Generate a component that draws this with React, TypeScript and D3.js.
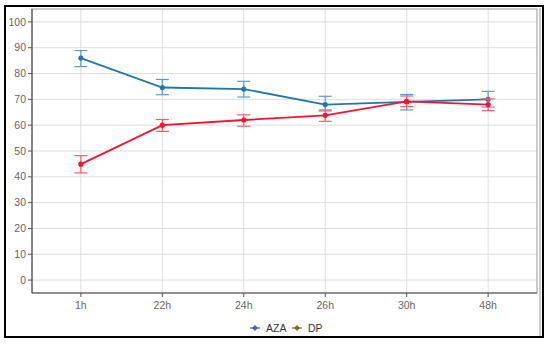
import React from 'react';
import * as d3 from 'd3';

// time points on the x axis
const timePoints = ['1h', '22h', '24h', '26h', '30h', '48h'];

// AZA series (mean, lower, upper)
const azaMean = [86, 74.6, 74, 68, 69, 70];
const azaLow = [82.7, 71.8, 70.9, 65.5, 65.9, 67];
const azaHigh = [88.9, 77.7, 77, 71.2, 71.9, 73.1];

// DP series (mean, lower, upper)
const dpMean = [44.9, 60, 62, 63.8, 69.2, 68];
const dpLow = [41.5, 57.6, 59.6, 61.5, 67.2, 65.6];
const dpHigh = [48.2, 62.2, 64, 65.9, 71.3, 70.2];

const yTicks = [0, 10, 20, 30, 40, 50, 60, 70, 80, 90, 100];

const legendItems = ['AZA', 'DP'];
const legendColors = ['#5a5ab8', '#8a6a1e'];

const W = 550;
const H = 345;
const panel = { left: 32, top: 9, right: 537, bottom: 293 };
const font = '"Liberation Sans", Arial, sans-serif';

export default function App() {
  const x = d3
    .scalePoint<string>()
    .domain(timePoints)
    .range([panel.left, panel.right])
    .padding(0.6);
  const y = d3.scaleLinear().domain([-5, 105]).range([panel.bottom, panel.top]);

  const line = d3
    .line<number>()
    .x((_, i) => x(timePoints[i]) as number)
    .y((d) => y(d));

  const series = [
    { name: 'AZA', mean: azaMean, low: azaLow, high: azaHigh, color: '#1f78a8', err: '#5b9cc6' },
    { name: 'DP', mean: dpMean, low: dpLow, high: dpHigh, color: '#ff1030', err: '#ff5a66' },
  ];

  const cap = 6.5;

  return (
    <svg
      width={W}
      height={H}
      style={{ position: 'absolute', left: 0, top: 0, background: '#fff' }}
      fontFamily={font}
    >
      {/* outer frame */}
      <rect x={5} y={6} width={538} height={331} fill="none" stroke="#000" strokeWidth={2} />
      <line x1={540} y1={8} x2={540} y2={336} stroke="#999" strokeWidth={1} />

      {/* grid */}
      {yTicks.map((t) => (
        <line key={'gy' + t} x1={panel.left} x2={panel.right} y1={y(t)} y2={y(t)} stroke="#dedede" strokeWidth={1} />
      ))}
      {timePoints.map((t) => (
        <line key={'gx' + t} x1={x(t)} x2={x(t)} y1={panel.top} y2={panel.bottom} stroke="#dedede" strokeWidth={1} />
      ))}

      {/* panel border */}
      <rect
        x={panel.left}
        y={panel.top}
        width={panel.right - panel.left}
        height={panel.bottom - panel.top}
        fill="none"
        stroke="#999"
        strokeWidth={1}
      />
      <line x1={panel.left} x2={panel.left} y1={panel.top} y2={panel.bottom} stroke="#555" strokeWidth={1.2} />
      <line x1={panel.left} x2={panel.right} y1={panel.bottom} y2={panel.bottom} stroke="#555" strokeWidth={1.2} />

      {/* y axis */}
      {yTicks.map((t) => (
        <g key={'ty' + t}>
          <line x1={panel.left - 4} x2={panel.left} y1={y(t)} y2={y(t)} stroke="#555" />
          <text x={panel.left - 6} y={y(t)} dy="0.35em" textAnchor="end" fontSize={10.5} fill="#666">
            {t}
          </text>
        </g>
      ))}

      {/* x axis */}
      {timePoints.map((t) => (
        <g key={'tx' + t}>
          <line x1={x(t)} x2={x(t)} y1={panel.bottom} y2={panel.bottom + 4} stroke="#555" />
          <text x={x(t)} y={panel.bottom + 16} textAnchor="middle" fontSize={10.5} fill="#666">
            {t}
          </text>
        </g>
      ))}

      {/* series */}
      {series.map((s) => (
        <g key={s.name}>
          {s.mean.map((_, i) => {
            const cx = x(timePoints[i]) as number;
            return (
              <g key={i} stroke={s.err} strokeWidth={1.2}>
                <line x1={cx} x2={cx} y1={y(s.low[i])} y2={y(s.high[i])} />
                <line x1={cx - cap} x2={cx + cap} y1={y(s.low[i])} y2={y(s.low[i])} />
                <line x1={cx - cap} x2={cx + cap} y1={y(s.high[i])} y2={y(s.high[i])} />
              </g>
            );
          })}
          <path d={line(s.mean) ?? ''} fill="none" stroke={s.color} strokeWidth={1.8} />
          {s.mean.map((v, i) => (
            <circle key={'p' + i} cx={x(timePoints[i]) as number} cy={y(v)} r={2.6} fill={s.color} />
          ))}
        </g>
      ))}

      {/* legend */}
      {legendItems.map((name, i) => {
        const gx = i === 0 ? 255 : 297;
        const gy = 328;
        return (
          <g key={name}>
            <line x1={gx - 5} x2={gx + 5} y1={gy} y2={gy} stroke={legendColors[i]} strokeWidth={1.3} />
            <path d={`M${gx},${gy - 3}L${gx + 3},${gy}L${gx},${gy + 3}L${gx - 3},${gy}Z`} fill={legendColors[i]} />
            <text x={gx + 11} y={gy} dy="0.35em" fontSize={10.5} fill="#333">
              {name}
            </text>
          </g>
        );
      })}
    </svg>
  );
}
